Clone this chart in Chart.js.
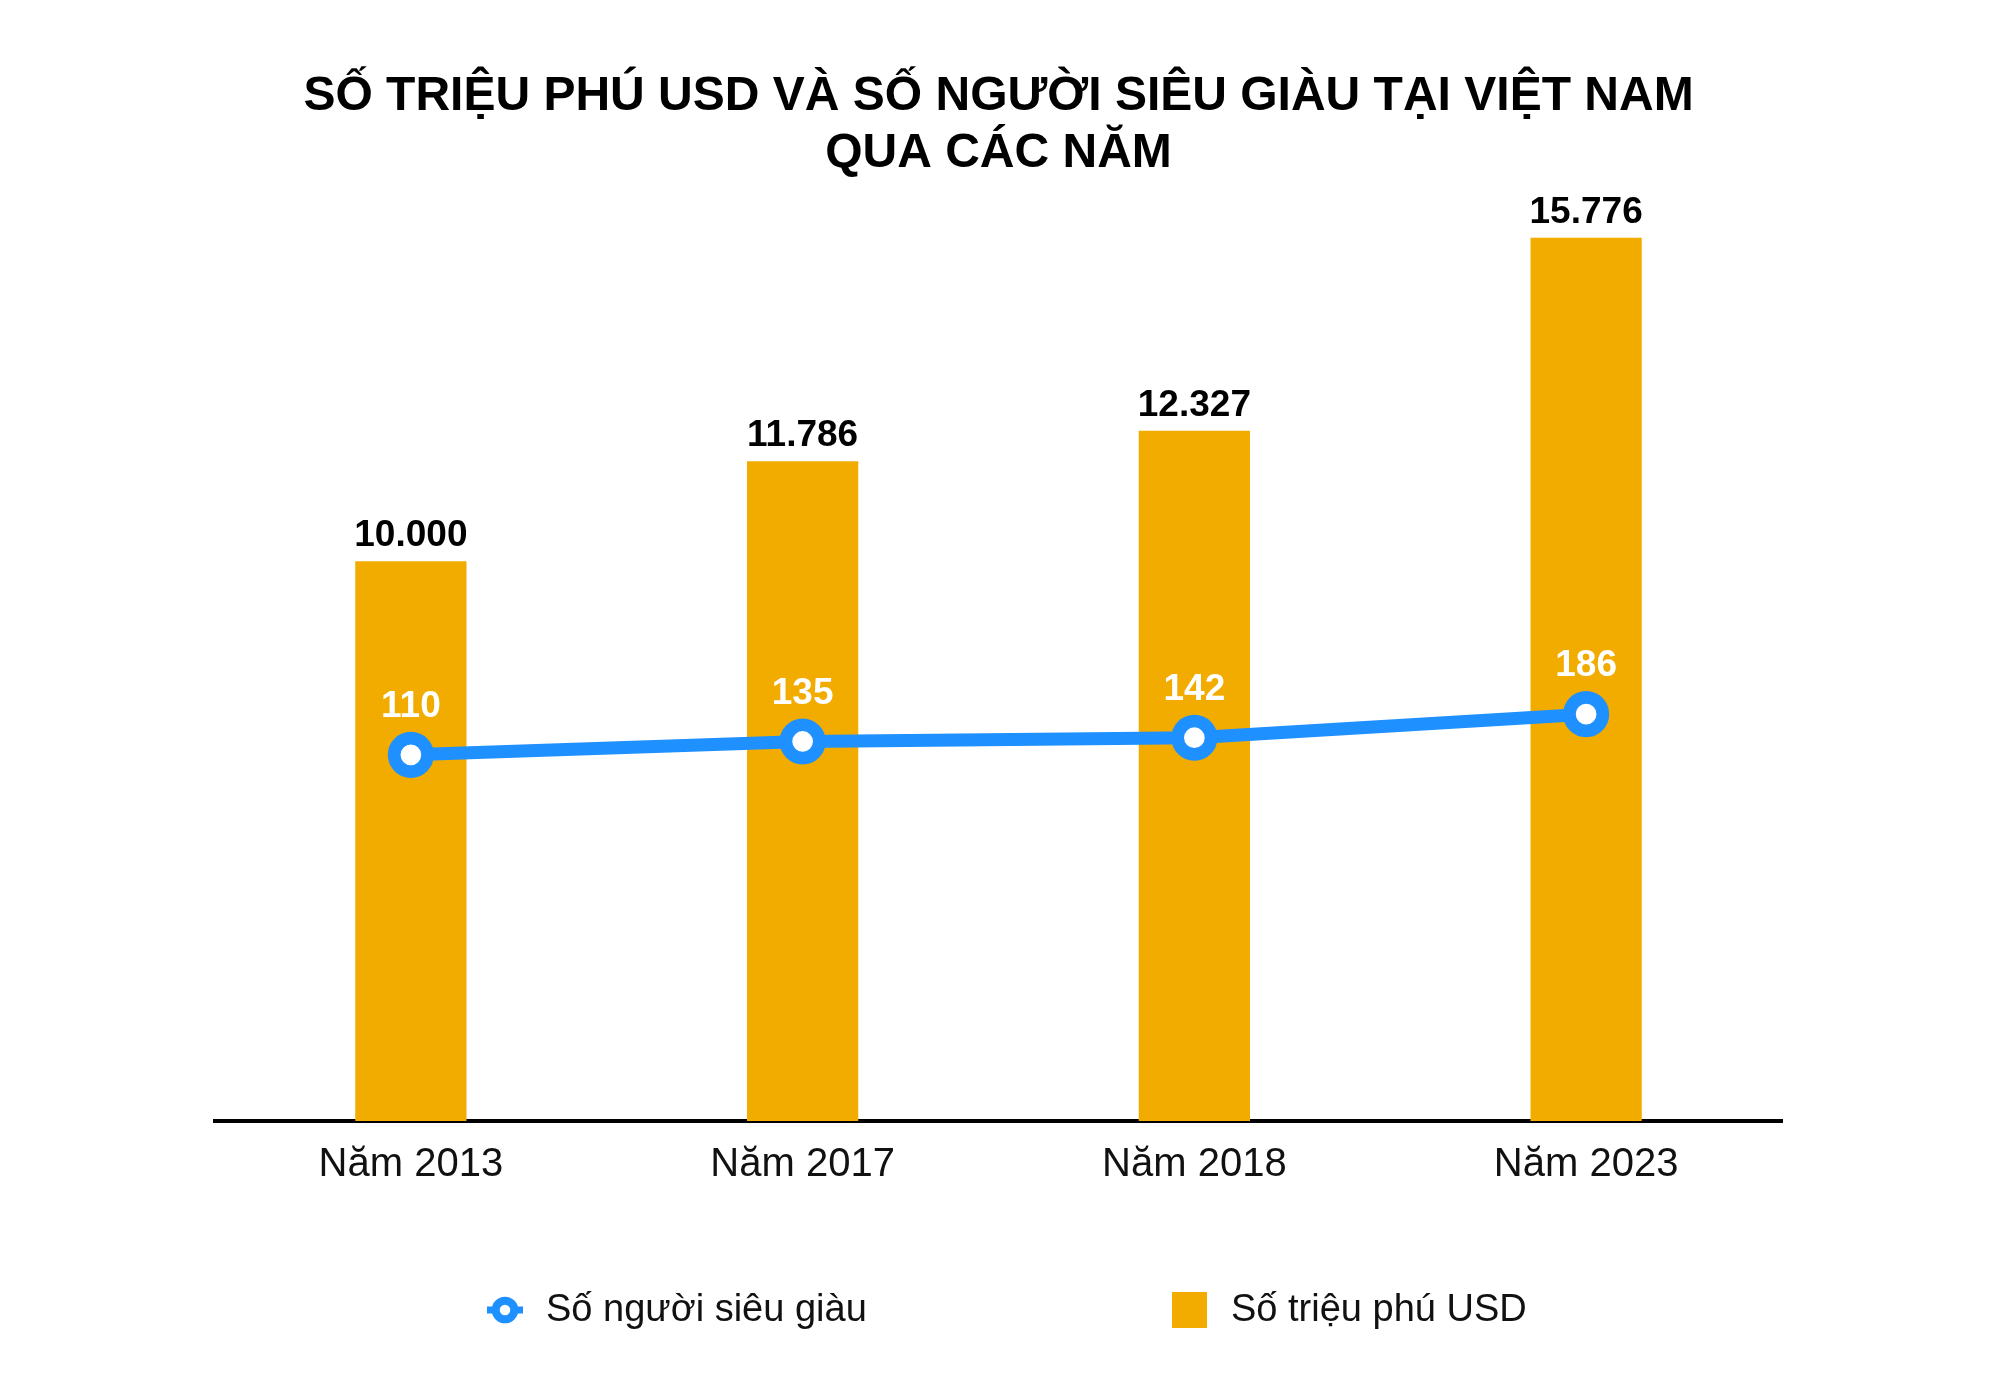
<!DOCTYPE html>
<html>
<head>
<meta charset="utf-8">
<script src="https://cdn.jsdelivr.net/npm/chart.js@4.4.1/dist/chart.umd.min.js"></script>
<style>
  html, body { margin: 0; padding: 0; background: #fff; }
  canvas { display: block; }
</style>
</head>
<body>
<canvas id="wealthChart" width="2000" height="1388"></canvas>
<script>
const years = ["Năm 2013", "Năm 2017", "Năm 2018", "Năm 2023"];
const millionaires = [10000, 11786, 12327, 15776];   // Số triệu phú USD
const ultraRich = [110, 135, 142, 186];              // Số người siêu giàu
const titleLines = ["SỐ TRIỆU PHÚ USD VÀ SỐ NGƯỜI SIÊU GIÀU TẠI VIỆT NAM", "QUA CÁC NĂM"];
const seriesNames = ["Số người siêu giàu", "Số triệu phú USD"];

const BLUE = "#1E90FF";
const ORANGE = "#F2AC00";
const FONT = '"Liberation Sans", Arial, Helvetica, sans-serif';

Chart.defaults.font.family = FONT;
Chart.defaults.color = "#111";

// 10000 -> "10.000"
function fmt(n) {
  return String(n).replace(/\B(?=(\d{3})+(?!\d))/g, ".");
}

const valueLabels = {
  id: "valueLabels",
  afterDatasetsDraw(chart) {
    const ctx = chart.ctx;
    ctx.save();
    ctx.textAlign = "center";
    ctx.textBaseline = "middle";
    ctx.font = "bold 37px " + FONT;

    chart.getDatasetMeta(1).data.forEach((bar, i) => {
      ctx.fillStyle = "#000";
      ctx.fillText(fmt(millionaires[i]), bar.x, bar.y - 25);
    });
    chart.getDatasetMeta(0).data.forEach((pt, i) => {
      ctx.fillStyle = "#fff";
      ctx.fillText(fmt(ultraRich[i]), pt.x, pt.y - 48);
    });
    ctx.restore();
  }
};

// legend drawn by hand, the two items sit far apart
const bottomLegend = {
  id: "bottomLegend",
  afterDraw(chart) {
    const ctx = chart.ctx;
    const y = 1310;
    ctx.save();

    // line item
    ctx.strokeStyle = BLUE;
    ctx.lineWidth = 7;
    ctx.beginPath();
    ctx.moveTo(487, y);
    ctx.lineTo(523, y);
    ctx.stroke();
    ctx.beginPath();
    ctx.arc(505, y, 9.3, 0, Math.PI * 2);
    ctx.fillStyle = "#fff";
    ctx.fill();
    ctx.lineWidth = 8;
    ctx.stroke();

    // bar item
    ctx.fillStyle = ORANGE;
    ctx.fillRect(1172, 1292, 35, 36);

    ctx.fillStyle = "#111";
    ctx.font = "38px " + FONT;
    ctx.textAlign = "left";
    ctx.textBaseline = "middle";
    ctx.fillText(seriesNames[0], 546, y + 1);
    ctx.fillText(seriesNames[1], 1231, y + 1);
    ctx.restore();
  }
};

new Chart(document.getElementById("wealthChart"), {
  data: {
    labels: years,
    datasets: [
      {
        type: "line",
        label: seriesNames[0],
        data: ultraRich,
        yAxisID: "y2",
        borderColor: BLUE,
        borderWidth: 13,
        pointRadius: 16.7,
        pointBorderWidth: 12.7,
        pointBackgroundColor: "#fff",
        pointBorderColor: BLUE,
        pointHoverRadius: 16.7,
        tension: 0,
        order: 0
      },
      {
        type: "bar",
        label: seriesNames[1],
        data: millionaires,
        yAxisID: "y",
        backgroundColor: ORANGE,
        categoryPercentage: 0.284,
        barPercentage: 1,
        order: 1
      }
    ]
  },
  options: {
    responsive: false,
    animation: false,
    layout: {
      padding: { left: 215, right: 218, top: 0, bottom: 179 }
    },
    plugins: {
      legend: { display: false },
      tooltip: { enabled: false },
      title: {
        display: true,
        text: titleLines,
        color: "#000",
        font: { size: 48, weight: "bold", lineHeight: 1.19 },
        padding: { top: 68, bottom: 18 }
      }
    },
    scales: {
      x: {
        grid: { display: false, drawTicks: false },
        border: { display: true, color: "#000", width: 4 },
        ticks: { color: "#111", font: { size: 40 }, padding: 20 }
      },
      y: {
        display: false,
        min: 0,
        max: 16446
      },
      y2: {
        display: false,
        position: "right",
        min: -574,
        max: 1146
      }
    }
  },
  plugins: [valueLabels, bottomLegend]
});
</script>
</body>
</html>
